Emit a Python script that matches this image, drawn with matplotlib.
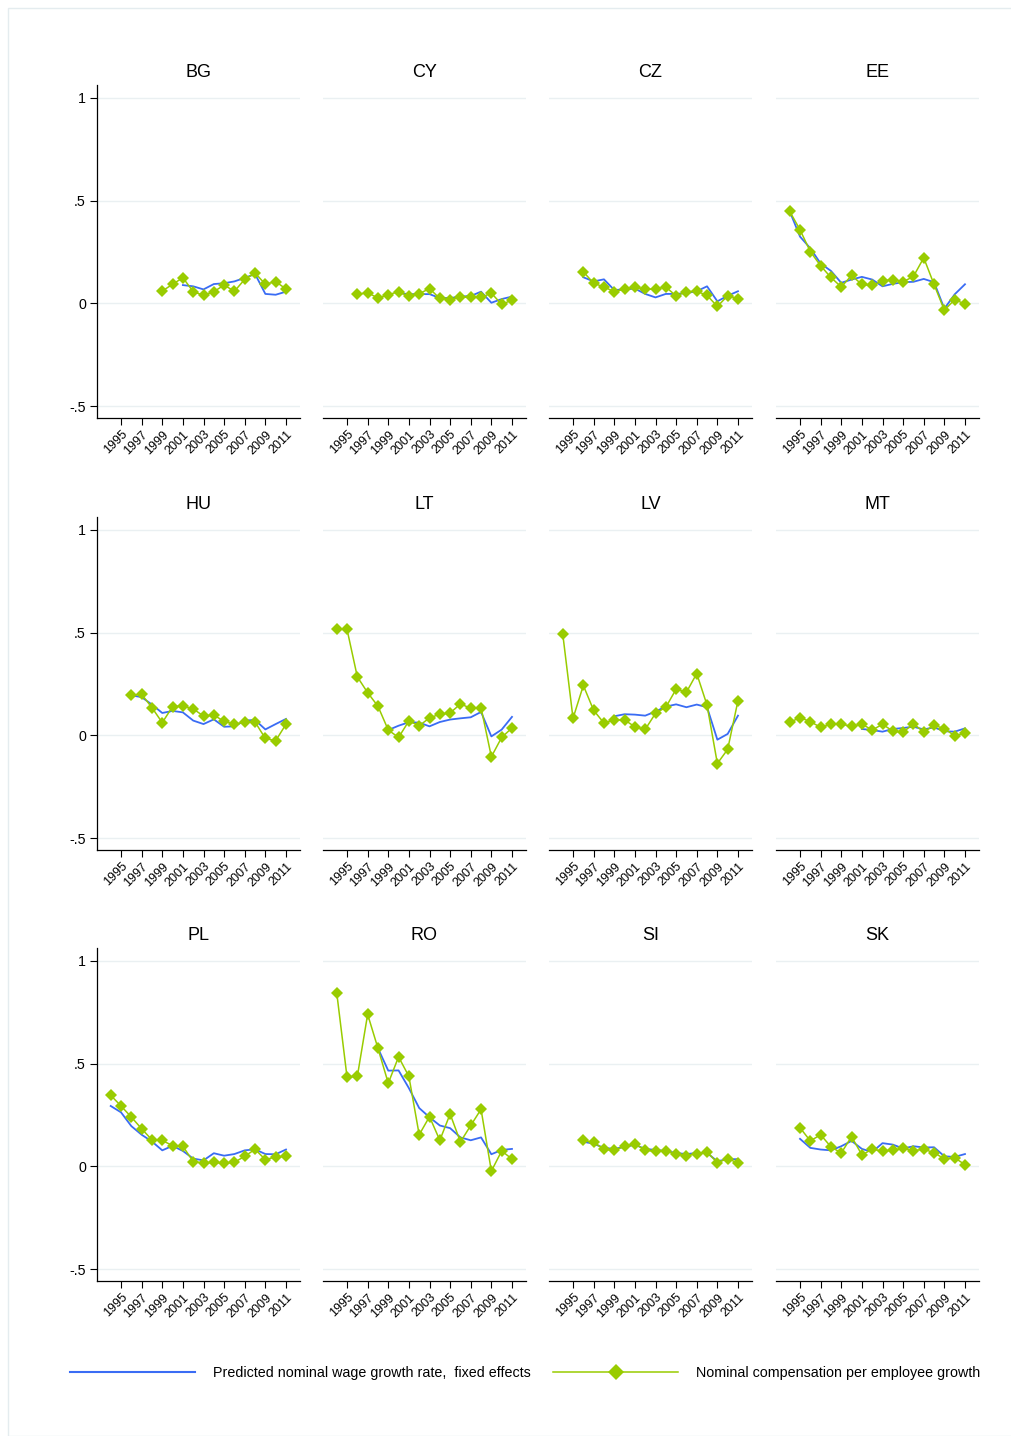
import numpy as np
import matplotlib
matplotlib.use("Agg")
import matplotlib.pyplot as plt
from matplotlib.lines import Line2D
from matplotlib.patches import Rectangle

plt.rcParams['font.family'] = ['Liberation Sans', 'DejaVu Sans']

# countries in panel order (3 rows x 4 cols)
countries = ["BG", "CY", "CZ", "EE", "HU", "LT", "LV", "MT", "PL", "RO", "SI", "SK"]

# first year of each series, then values year by year up to 2011
actual_start = {"BG": 1999, "CY": 1996, "CZ": 1996, "EE": 1994, "HU": 1996, "LT": 1994,
                "LV": 1994, "MT": 1994, "PL": 1994, "RO": 1994, "SI": 1996, "SK": 1995}
pred_start = {"BG": 2001, "CY": 2000, "CZ": 1996, "EE": 1994, "HU": 1996, "LT": 1999,
              "LV": 1999, "MT": 2001, "PL": 1994, "RO": 1998, "SI": 1996, "SK": 1995}

# nominal compensation per employee growth
bg_act = [0.060, 0.093, 0.125, 0.057, 0.039, 0.057, 0.089, 0.059, 0.117, 0.148, 0.093, 0.106, 0.070]
cy_act = [0.044, 0.052, 0.026, 0.042, 0.057, 0.034, 0.047, 0.072, 0.024, 0.018, 0.031, 0.029,
          0.029, 0.050, -0.005, 0.016]
cz_act = [0.154, 0.098, 0.080, 0.057, 0.070, 0.080, 0.068, 0.070, 0.080, 0.036, 0.057, 0.059,
          0.039, -0.015, 0.037, 0.023]
ee_act = [0.448, 0.358, 0.252, 0.183, 0.126, 0.080, 0.136, 0.092, 0.087, 0.109, 0.116, 0.105,
          0.131, 0.222, 0.092, -0.033, 0.018, -0.003]
hu_act = [0.195, 0.200, 0.135, 0.062, 0.140, 0.143, 0.129, 0.094, 0.099, 0.068, 0.055, 0.064,
          0.065, -0.015, -0.026, 0.054]
lt_act = [0.516, 0.516, 0.285, 0.208, 0.142, 0.026, -0.010, 0.070, 0.047, 0.085, 0.103, 0.109,
          0.153, 0.132, 0.135, -0.104, -0.010, 0.036]
lv_act = [0.495, 0.083, 0.243, 0.122, 0.060, 0.075, 0.075, 0.042, 0.029, 0.107, 0.137, 0.225,
          0.210, 0.301, 0.147, -0.137, -0.068, 0.169]
mt_act = [0.064, 0.086, 0.067, 0.039, 0.054, 0.055, 0.044, 0.055, 0.026, 0.054, 0.021, 0.015,
          0.057, 0.016, 0.049, 0.033, -0.002, 0.010]
pl_act = [0.346, 0.294, 0.240, 0.183, 0.129, 0.126, 0.101, 0.098, 0.023, 0.016, 0.020, 0.015,
          0.020, 0.049, 0.083, 0.033, 0.046, 0.049]
ro_act = [0.846, 0.435, 0.438, 0.740, 0.575, 0.405, 0.533, 0.438, 0.154, 0.242, 0.127, 0.255,
          0.119, 0.199, 0.278, -0.023, 0.075, 0.036]
si_act = [0.126, 0.118, 0.083, 0.078, 0.098, 0.111, 0.078, 0.074, 0.075, 0.059, 0.052, 0.062,
          0.070, 0.018, 0.038, 0.016]
sk_act = [0.188, 0.124, 0.154, 0.095, 0.065, 0.145, 0.056, 0.083, 0.075, 0.078, 0.087, 0.077,
          0.083, 0.067, 0.036, 0.042, 0.008]

# predicted nominal wage growth rate, fixed effects
bg_pred = [0.089, 0.083, 0.068, 0.094, 0.098, 0.107, 0.124, 0.143, 0.046, 0.042, 0.057]
cy_pred = [0.050, 0.045, 0.045, 0.045, 0.026, 0.026, 0.033, 0.036, 0.057, 0.003, 0.021, 0.033]
cz_pred = [0.127, 0.107, 0.117, 0.065, 0.068, 0.072, 0.046, 0.029, 0.046, 0.046, 0.050, 0.059,
           0.083, 0.010, 0.037, 0.059]
ee_pred = [0.448, 0.325, 0.268, 0.194, 0.158, 0.100, 0.116, 0.129, 0.116, 0.083, 0.095, 0.103,
           0.105, 0.119, 0.103, -0.026, 0.044, 0.093]
hu_pred = [0.195, 0.186, 0.150, 0.109, 0.119, 0.112, 0.072, 0.055, 0.078, 0.042, 0.044, 0.072,
           0.075, 0.029, 0.055, 0.080]
lt_pred = [0.026, 0.047, 0.064, 0.062, 0.044, 0.065, 0.077, 0.083, 0.088, 0.114, -0.005, 0.028, 0.090]
lv_pred = [0.093, 0.103, 0.101, 0.096, 0.116, 0.140, 0.151, 0.137, 0.150, 0.137, -0.021, 0.007, 0.096]
mt_pred = [0.031, 0.026, 0.018, 0.031, 0.036, 0.042, 0.029, 0.039, 0.020, 0.018, 0.034]
pl_pred = [0.294, 0.263, 0.196, 0.154, 0.121, 0.078, 0.100, 0.075, 0.038, 0.029, 0.064, 0.052,
           0.060, 0.078, 0.083, 0.060, 0.059, 0.082]
ro_pred = [0.575, 0.466, 0.467, 0.381, 0.284, 0.239, 0.199, 0.186, 0.141, 0.127, 0.141, 0.059,
           0.080, 0.085]
si_pred = [0.120, 0.110, 0.090, 0.085, 0.095, 0.105, 0.085, 0.080, 0.075, 0.065, 0.060, 0.065,
           0.065, 0.025, 0.035, 0.035]
sk_pred = [0.134, 0.090, 0.082, 0.078, 0.098, 0.124, 0.085, 0.070, 0.113, 0.106, 0.087, 0.098,
           0.092, 0.093, 0.049, 0.046, 0.060]

actual = {"BG": bg_act, "CY": cy_act, "CZ": cz_act, "EE": ee_act, "HU": hu_act, "LT": lt_act,
          "LV": lv_act, "MT": mt_act, "PL": pl_act, "RO": ro_act, "SI": si_act, "SK": sk_act}
predicted = {"BG": bg_pred, "CY": cy_pred, "CZ": cz_pred, "EE": ee_pred, "HU": hu_pred, "LT": lt_pred,
             "LV": lv_pred, "MT": mt_pred, "PL": pl_pred, "RO": ro_pred, "SI": si_pred, "SK": sk_pred}

xticks = list(range(1995, 2012, 2))
yticks = [-0.5, 0, 0.5, 1]
ytick_labels = ["-.5", "0", ".5", "1"]

BLUE = "#3a6cf4"
GREEN = "#99cc00"
GRID = "#eaf0f2"

W, H = 1012, 1436
fig = plt.figure(figsize=(W / 100, H / 100), dpi=100)
fig.patches.append(Rectangle((8 / W, 0), 1 - 8 / W, 1 - 8 / H, transform=fig.transFigure,
                             fill=False, edgecolor="#e4ecef", linewidth=1))

col_left = [97, 323, 549, 776]
row_bottom = [418, 850, 1281]
ax_w, ax_h = 203, 333

for i, c in enumerate(countries):
    r, k = divmod(i, 4)
    ax = fig.add_axes([col_left[k] / W, 1 - row_bottom[r] / H, ax_w / W, ax_h / H])
    ya = actual[c]
    yp = predicted[c]
    xa = np.arange(actual_start[c], actual_start[c] + len(ya))
    xp = np.arange(pred_start[c], pred_start[c] + len(yp))
    for yt in yticks:
        ax.axhline(yt, color=GRID, lw=1, zorder=0)
    ax.plot(xp, yp, color=BLUE, lw=1.3, zorder=2)
    ax.plot(xa, ya, color=GREEN, lw=1.1, marker="D", markersize=6.2, markeredgewidth=0, zorder=3)
    ax.set_xlim(1992.67, 2012.36)
    ax.set_ylim(-0.558, 1.063)
    ax.set_xticks(xticks)
    ax.set_xticklabels([str(x) for x in xticks], rotation=45, ha="right",
                       rotation_mode="anchor", fontsize=9)
    ax.tick_params(axis="x", length=5, width=0.8, pad=2.5)
    for s in ["top", "right"]:
        ax.spines[s].set_visible(False)
    ax.spines["bottom"].set_linewidth(0.9)
    if k == 0:
        ax.set_yticks(yticks)
        ax.set_yticklabels(ytick_labels, fontsize=10.3)
        ax.tick_params(axis="y", length=5, width=0.8, pad=3)
        ax.spines["left"].set_linewidth(0.9)
    else:
        ax.spines["left"].set_visible(False)
        ax.set_yticks([])
    ax.set_title(c, fontsize=13, pad=6)

handles = [Line2D([], [], color=BLUE, lw=1.5),
           Line2D([], [], color=GREEN, lw=1.1, marker="D", markersize=8, markeredgewidth=0)]
labels = ["Predicted nominal wage growth rate,  fixed effects",
          "Nominal compensation per employee growth"]
fig.legend(handles, labels, loc="center", bbox_to_anchor=(0.519, 1 - 1373 / H), ncol=2,
           frameon=False, fontsize=10.3, handlelength=8.7, handletextpad=1.25, columnspacing=1.6,
           numpoints=1)

fig.savefig("out.png", dpi=100, facecolor="white")
